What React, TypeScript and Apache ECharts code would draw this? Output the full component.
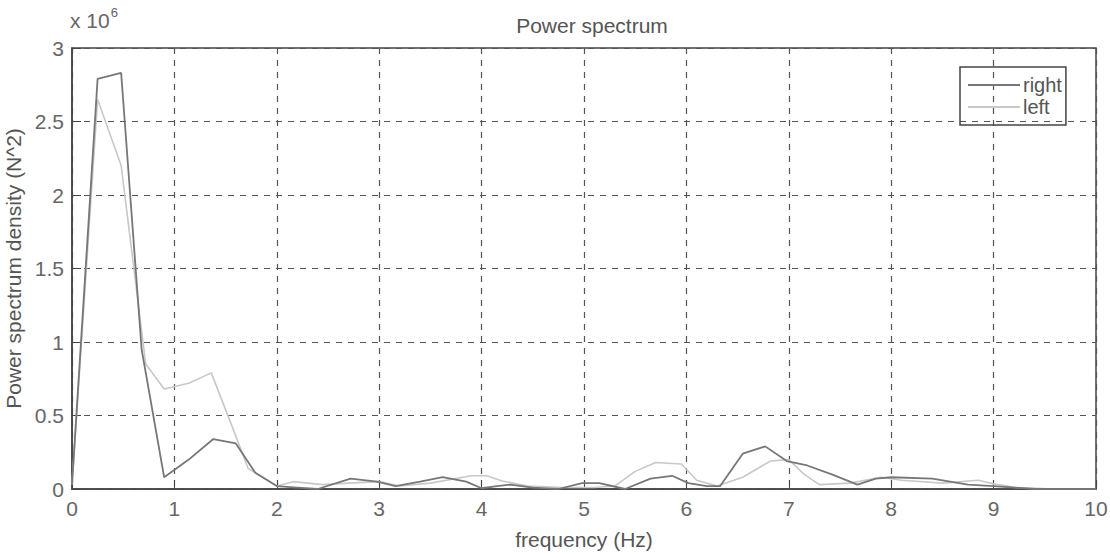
import React, { useEffect, useRef } from "react";
import * as echarts from "echarts";

// Frequency (Hz) / power spectrum density (x 10^6 N^2)
const rightSeries: [number, number][] = [
  [0, 0.03], [0.25, 2.79], [0.48, 2.83], [0.68, 0.95], [0.9, 0.08], [1.14, 0.2],
  [1.38, 0.34], [1.6, 0.31], [1.79, 0.11], [2.0, 0.02], [2.2, 0.01], [2.4, 0],
  [2.72, 0.07], [2.98, 0.05], [3.16, 0.02], [3.4, 0.05], [3.62, 0.08], [3.85, 0.05],
  [4.0, 0.005], [4.15, 0.02], [4.28, 0.03], [4.5, 0.01], [4.75, 0], [4.98, 0.04],
  [5.15, 0.04], [5.4, 0], [5.65, 0.07], [5.86, 0.09], [6.02, 0.04], [6.2, 0.02],
  [6.33, 0.02], [6.55, 0.24], [6.77, 0.29], [6.98, 0.19], [7.18, 0.16], [7.42, 0.1],
  [7.67, 0.03], [7.85, 0.07], [8.0, 0.08], [8.4, 0.07], [8.75, 0.03], [9.0, 0.02],
  [9.4, 0], [10, 0],
];

const leftSeries: [number, number][] = [
  [0, 0.03], [0.25, 2.65], [0.48, 2.2], [0.72, 0.85], [0.9, 0.68], [1.14, 0.72],
  [1.36, 0.79], [1.55, 0.45], [1.72, 0.14], [2.0, 0.02], [2.16, 0.05], [2.45, 0.03],
  [2.7, 0.04], [3.0, 0.05], [3.2, 0.02], [3.5, 0.04], [3.9, 0.09], [4.05, 0.09],
  [4.2, 0.055], [4.45, 0.02], [4.8, 0.01], [5.1, 0.01], [5.3, 0.02], [5.5, 0.12],
  [5.7, 0.18], [5.95, 0.17], [6.1, 0.06], [6.3, 0.02], [6.55, 0.08], [6.82, 0.19],
  [7.0, 0.2], [7.15, 0.1], [7.3, 0.03], [7.6, 0.04], [7.9, 0.08], [8.1, 0.06],
  [8.5, 0.04], [8.85, 0.06], [9.0, 0.035], [9.22, 0.01], [9.6, 0], [10, 0],
];

const seriesNames = ["right", "left"];
const titleText = "Power spectrum";
const xAxisName = "frequency (Hz)";
const yAxisName = "Power spectrum density (N^2)";

export default function App() {
  const ref = useRef<HTMLDivElement>(null);
  useEffect(() => {
    if (!ref.current) return;
    const chart = echarts.init(ref.current, null, { renderer: "svg" });
    const font = "'Liberation Sans', Arial, sans-serif";
    const textColor = "#555";
    chart.setOption({
      animation: false,
      backgroundColor: "#fff",
      textStyle: { fontFamily: font },
      title: {
        text: titleText,
        left: 587,
        top: 10,
        textAlign: "center",
        textStyle: { fontSize: 21, fontWeight: "normal", color: textColor, fontFamily: font },
      },
      grid: {
        left: 72,
        right: 14,
        top: 48,
        bottom: 64,
        containLabel: false,
        outerBoundsMode: "none",
        show: true,
        borderColor: "#444",
        borderWidth: 1.5,
        backgroundColor: "transparent",
      },
      legend: {
        data: seriesNames,
        left: 960,
        top: 67,
        orient: "vertical",
        borderColor: "#444",
        borderWidth: 1.5,
        padding: [8, 4, 8, 8],
        itemWidth: 52,
        itemHeight: 2,
        itemGap: 2,
        icon: "rect",
        textStyle: { fontSize: 20, color: textColor, fontFamily: font, padding: [0, 0, 0, -2] },
      },
      xAxis: {
        type: "value",
        min: 0,
        max: 10,
        interval: 1,
        name: xAxisName,
        nameLocation: "middle",
        nameGap: 40,
        nameTextStyle: { fontSize: 21, color: textColor, fontFamily: font },
        axisLine: { show: true, lineStyle: { color: "#444", width: 1.5 } },
        axisTick: { show: true, inside: true, length: 9, lineStyle: { color: "#444" } },
        axisLabel: { fontSize: 21, color: "#666", margin: 9, fontFamily: font },
        splitLine: { show: true, lineStyle: { color: "#555", type: [6, 6], width: 1.2 } },
      },
      yAxis: {
        type: "value",
        min: 0,
        max: 3,
        interval: 0.5,
        name: yAxisName,
        nameLocation: "middle",
        nameGap: 36,
        nameTextStyle: { fontSize: 21, color: textColor, fontFamily: font },
        axisLine: { show: true, lineStyle: { color: "#444", width: 1.5 } },
        axisTick: { show: true, inside: true, length: 9, lineStyle: { color: "#444" } },
        axisLabel: { fontSize: 21, color: "#666", margin: 8, fontFamily: font },
        splitLine: { show: true, lineStyle: { color: "#555", type: [6, 6], width: 1.2 } },
      },
      graphic: [
        {
          type: "text",
          left: 70,
          top: 6,
          style: {
            text: "{a|x 10}{b|6}",
            rich: {
              a: { fontSize: 21, fill: "#666", fontFamily: font, verticalAlign: "bottom" },
              b: { fontSize: 13, fill: "#666", fontFamily: font, verticalAlign: "top", padding: [0, 0, 12, 1] },
            },
          },
        },
      ],
      series: [
        {
          name: seriesNames[0],
          type: "line",
          data: rightSeries,
          showSymbol: false,
          symbol: "none",
          lineStyle: { color: "#777", width: 1.8 },
          itemStyle: { color: "#777" },
          z: 3,
        },
        {
          name: seriesNames[1],
          type: "line",
          data: leftSeries,
          showSymbol: false,
          symbol: "none",
          lineStyle: { color: "#c8c8c8", width: 1.6 },
          itemStyle: { color: "#c8c8c8" },
          z: 2,
        },
      ],
    });
    return () => chart.dispose();
  }, []);
  return (
    <div
      ref={ref}
      style={{ position: "fixed", left: 0, top: 0, width: 1110, height: 553 }}
    />
  );
}
